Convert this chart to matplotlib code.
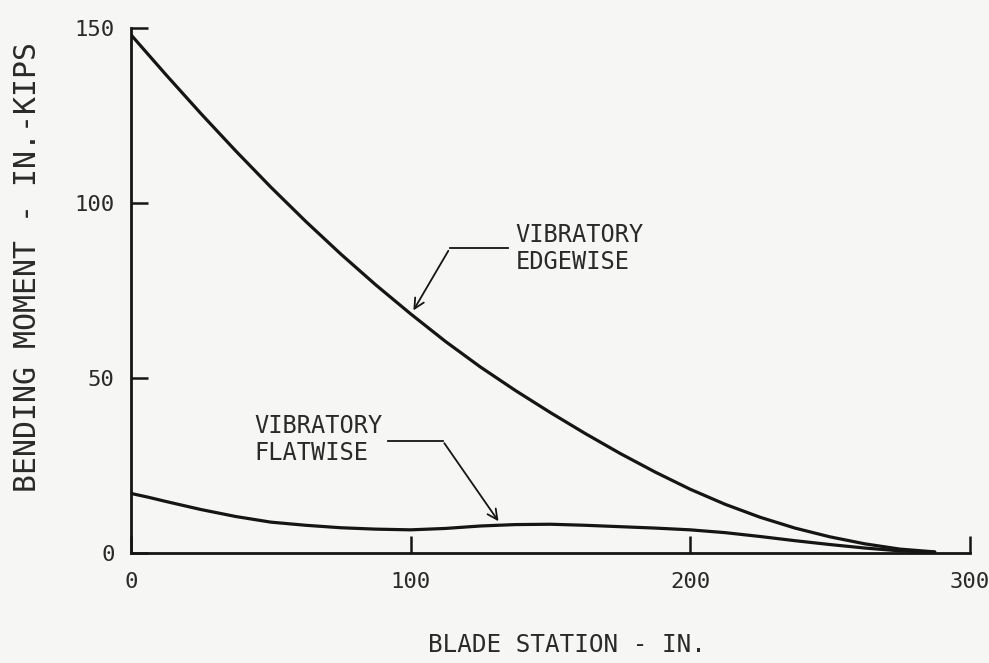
import numpy as np
import matplotlib
matplotlib.use('Agg')
import matplotlib.pyplot as plt

# values
station = [0, 6.25, 12.5, 25, 37.5, 50, 62.5, 75, 87.5, 100, 112.5, 125, 137.5,
           150, 162.5, 175, 187.5, 200, 212.5, 225, 237.5, 250, 262.5, 275, 287.5]
edgewise = [148, 142.3, 136.6, 125.5, 114.8, 104.5, 94.7, 85.4, 76.6, 68.3, 60.4, 53.1, 46.4,
            40.1, 34.1, 28.4, 23.1, 18.2, 13.9, 10.2, 7.1, 4.6, 2.6, 1.1, 0.3]
flatwise = [17, 15.9, 14.7, 12.4, 10.4, 8.8, 7.9, 7.2, 6.8, 6.6, 7.0, 7.7, 8.1,
            8.2, 7.9, 7.5, 7.1, 6.6, 5.8, 4.7, 3.5, 2.4, 1.4, 0.6, 0.2]

xticks = [0, 100, 200, 300]
yticks = [0, 50, 100, 150]

ink = '#151515'
txt = '#2a2a2a'
bg = '#f6f6f4'
font = 'DejaVu Sans Mono'

fig = plt.figure(figsize=(9.89, 6.63), dpi=100, facecolor=bg)
ax = fig.add_axes([0.1325, 0.166, 0.848, 0.792])
ax.set_facecolor(bg)

ax.plot(station, edgewise, color=ink, lw=2.3, solid_capstyle='round', solid_joinstyle='round')
ax.plot(station, flatwise, color=ink, lw=2.3, solid_capstyle='round', solid_joinstyle='round')

ax.set_xlim(0, 300)
ax.set_ylim(0, 150)
for s in ['top', 'right']:
    ax.spines[s].set_visible(False)
for s in ['left', 'bottom']:
    ax.spines[s].set_linewidth(2.0)
    ax.spines[s].set_color(ink)

ax.set_xticks(xticks)
ax.set_yticks(yticks)
ax.set_xticklabels([str(v) for v in xticks], family=font, fontsize=16, color=txt)
ax.set_yticklabels([str(v) for v in yticks], family=font, fontsize=16, color=txt)
ax.tick_params(axis='x', direction='in', length=12, width=1.8, color=ink, pad=14)
ax.tick_params(axis='y', direction='in', length=12, width=1.8, color=ink, pad=12)

ax.set_xlabel('BLADE STATION - IN.', family=font, fontsize=17.5, color=txt, va='center')
ax.xaxis.set_label_coords(0.52, -0.175)
ax.set_ylabel('BENDING MOMENT - IN.-KIPS', family=font, fontsize=21.5, color=txt, va='center')
ax.yaxis.set_label_coords(-0.124, 0.545)

# leader lines with arrows
edge_txt = (137.5, 87)
edge_bend = (114, 87)
edge_tip = (100.5, 68.6)
flat_txt = (44, 32)
flat_bend = (111.5, 32)
flat_tip = (132, 8.4)

ax.text(edge_txt[0], edge_txt[1], 'VIBRATORY\nEDGEWISE', family=font, fontsize=17,
        color=txt, ha='left', va='center', linespacing=1.15)
ax.plot([edge_bend[0], edge_txt[0] - 2.5], [edge_bend[1], edge_bend[1]], color=ink, lw=1.3)
ax.annotate('', xy=edge_tip, xytext=edge_bend,
            arrowprops=dict(arrowstyle='->', color=ink, lw=1.3, mutation_scale=18))

ax.text(flat_txt[0], flat_txt[1] + 0.3, 'VIBRATORY\nFLATWISE', family=font, fontsize=17,
        color=txt, ha='left', va='center', linespacing=1.15)
ax.plot([92, flat_bend[0]], [flat_bend[1], flat_bend[1]], color=ink, lw=1.3)
ax.annotate('', xy=flat_tip, xytext=flat_bend,
            arrowprops=dict(arrowstyle='->', color=ink, lw=1.3, mutation_scale=18))

fig.savefig('out.png', dpi=100, facecolor=bg)
